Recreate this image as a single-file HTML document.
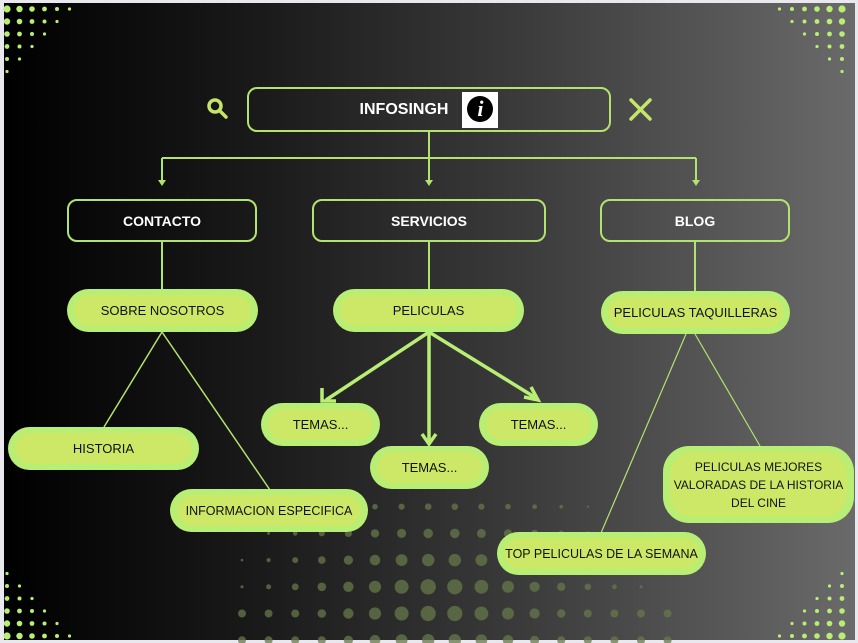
<!DOCTYPE html>
<html><head><meta charset="utf-8"><style>
body{margin:0;width:858px;height:643px;overflow:hidden;background:#e8e8ee;font-family:"Liberation Sans",sans-serif}
#bg{position:absolute;left:4px;top:3px;width:851px;height:637px;background:linear-gradient(90deg,#000 0%,#1a1a1a 30%,#3a3a3a 60%,#6a6a6a 100%)}
svg{position:absolute;left:0;top:0}
.box{position:absolute;border:2px solid #b2e36e;border-radius:10px;color:#fff;font-weight:bold;font-size:14px;display:flex;align-items:center;justify-content:center;box-sizing:border-box}
.pill{position:absolute;background:#b8ee74;border-radius:22px;box-sizing:border-box;padding:6px 7px}
.pill div{width:100%;height:100%;background:#cde866;border-radius:16px;display:flex;align-items:center;justify-content:center;font-size:13px;color:#111;text-align:center;line-height:18px;white-space:nowrap}
</style></head><body>
<div id="bg"></div>
<svg width="858" height="643" id="s">
<g id="dots"></g>
<g stroke="#b2e36e" stroke-width="2" fill="none">
<line x1="429" y1="132" x2="429" y2="158"/>
<line x1="162" y1="158" x2="696" y2="158"/>
<line x1="162" y1="158" x2="162" y2="180"/><line x1="429" y1="158" x2="429" y2="180"/><line x1="696" y1="158" x2="696" y2="180"/>
<line x1="162" y1="242" x2="162" y2="290"/>
<line x1="429" y1="242" x2="429" y2="290"/>
<line x1="695" y1="242" x2="695" y2="292"/>
<line x1="162" y1="332" x2="104" y2="427" stroke-width="1.5"/>
<line x1="162" y1="332" x2="270" y2="490" stroke-width="1.5"/>
<line x1="686" y1="334" x2="601" y2="533" stroke-width="1.2"/>
<line x1="695" y1="334" x2="760" y2="446" stroke-width="1.2"/>
</g>
<g stroke="#b8ee74" stroke-width="3.5" fill="none">
<line x1="429" y1="332" x2="326" y2="400"/>
<line x1="429" y1="332" x2="429" y2="442"/>
<line x1="429" y1="332" x2="536" y2="398"/>
<polyline points="322,388 322,401 336,401"/>
<polyline points="422,434 429,444 436,434"/>
<polyline points="524,397 538,400 531,387"/>
</g>
<g fill="#b2e36e"><polygon points="158,180 166,180 162,186"/><polygon points="425,180 433,180 429,186"/><polygon points="692,180 700,180 696,186"/></g>
<g stroke="#c4e56a" stroke-width="3.5" fill="none" stroke-linecap="round">
<circle cx="215" cy="106" r="6"/><line x1="220" y1="111" x2="226" y2="117"/>
<line x1="631" y1="100" x2="650" y2="119"/><line x1="650" y1="100" x2="631" y2="119"/>
</g>
</svg>
<div class="box" style="left:247px;top:87px;width:364px;height:45px;font-size:16px">INFOSINGH<span style="display:inline-block;width:36px;height:36px;background:#fff;margin-left:14px;position:relative"><span style="position:absolute;left:5px;top:4px;width:26px;height:26px;border-radius:50%;background:#000;color:#fff;font-family:'Liberation Serif',serif;font-style:italic;font-size:22px;line-height:26px;text-align:center">i</span></span></div>
<div class="box" style="left:67px;top:199px;width:190px;height:43px">CONTACTO</div>
<div class="box" style="left:312px;top:199px;width:234px;height:43px">SERVICIOS</div>
<div class="box" style="left:600px;top:199px;width:190px;height:43px">BLOG</div>
<div class="pill" style="left:67px;top:289px;width:191px;height:43px"><div>SOBRE NOSOTROS</div></div>
<div class="pill" style="left:333px;top:289px;width:191px;height:43px"><div>PELICULAS</div></div>
<div class="pill" style="left:601px;top:291px;width:189px;height:43px"><div>PELICULAS TAQUILLERAS</div></div>
<div class="pill" style="left:8px;top:427px;width:191px;height:43px"><div>HISTORIA</div></div>
<div class="pill" style="left:170px;top:489px;width:198px;height:43px"><div style="font-size:12.5px">INFORMACION ESPECIFICA</div></div>
<div class="pill" style="left:261px;top:403px;width:119px;height:43px"><div>TEMAS...</div></div>
<div class="pill" style="left:370px;top:446px;width:119px;height:43px"><div>TEMAS...</div></div>
<div class="pill" style="left:479px;top:403px;width:119px;height:43px"><div>TEMAS...</div></div>
<div class="pill" style="left:663px;top:446px;width:191px;height:77px;border-radius:26px"><div style="border-radius:22px;font-size:12px">PELICULAS MEJORES<br>VALORADAS DE LA HISTORIA<br>DEL CINE</div></div>
<div class="pill" style="left:497px;top:532px;width:209px;height:43px"><div style="font-size:12.5px">TOP PELICULAS DE LA SEMANA</div></div>
<script>
var g=document.getElementById('dots'),h='';
for(var r=0;r<7;r++){var y=480+r*26.7;for(var c=0;c<17;c++){var x=242+c*26.6;var d=Math.hypot((x-440)/1.6,(y-600));var rad=Math.max(0,8.5-d/18)*(r==0?0.4:1);if(y>600)rad=Math.max(rad,4);if(rad>1)h+='<circle cx="'+x+'" cy="'+y+'" r="'+rad.toFixed(1)+'" fill="#66784a" opacity="0.75"/>';}}
function corner(x0,y0,sx,sy){for(var i=0;i<6;i++)for(var j=0;j<6;j++){if(i+j>5)continue;var rad=3.6-(i+j)*0.4;if(rad>0.6)h+='<circle cx="'+(x0+sx*i*12.5)+'" cy="'+(y0+sy*j*12.5)+'" r="'+rad.toFixed(1)+'" fill="#b8ee74"/>';}}
corner(7,9,1,1);corner(842,9,-1,1);corner(7,636,1,-1);corner(842,636,-1,-1);
g.innerHTML=h;
</script>
</body></html>
